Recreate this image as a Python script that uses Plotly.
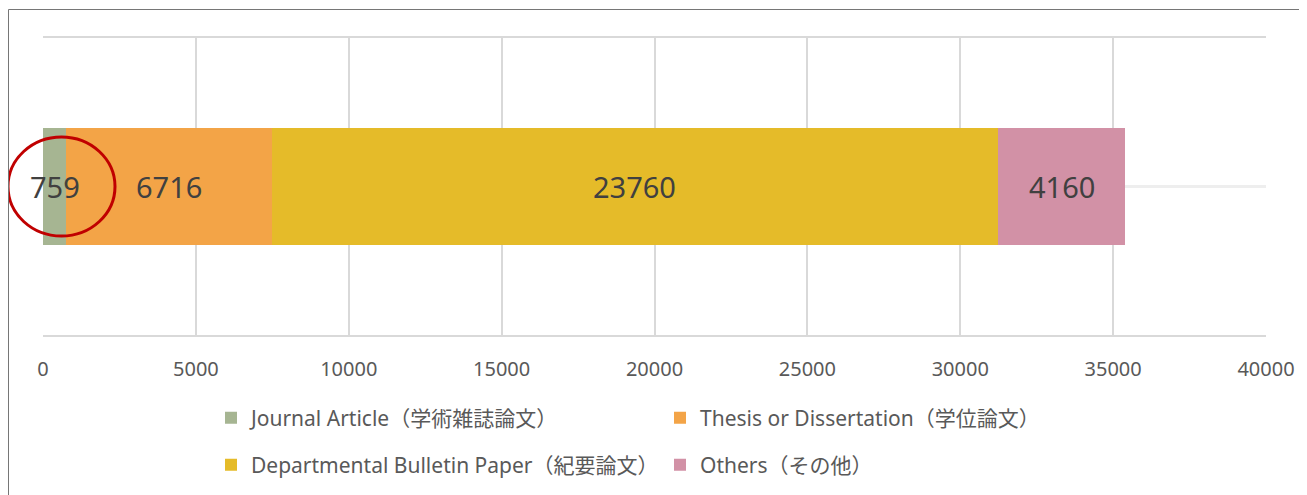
import plotly.graph_objects as go

categories = ["Journal Article（学術雑誌論文）", "Thesis or Dissertation（学位論文）",
              "Departmental Bulletin Paper（紀要論文）", "Others（その他）"]
values = [759, 6716, 23760, 4160]
colors = ["#a6b592", "#f3a447", "#e5bb29", "#d291a6"]
legend_rows = ["legend", "legend", "legend2", "legend2"]
x_ticks = [0, 5000, 10000, 15000, 20000, 25000, 30000, 35000, 40000]

FONT = "Noto Sans, Noto Sans CJK JP, sans-serif"

fig = go.Figure()
for name, v, c, lg in zip(categories, values, colors, legend_rows):
    fig.add_trace(go.Bar(
        x=[v], y=[0], orientation="h", name=name,
        marker=dict(color=c, line=dict(width=0)),
        width=0.397, legend=lg, textposition="none", hoverinfo="x+name",
    ))

# data labels centered on each segment
start = 0
for v in values:
    fig.add_annotation(x=start + v / 2, y=0, xref="x", yref="y", text=str(v),
                       showarrow=False, font=dict(size=29, color="#404040", family=FONT))
    start += v

OFF = 8  # page body margin
W, H = 1307 - OFF, 495 - OFF
L, R, T, B = 35, 41, 30, 160
pw, ph = W - L - R, H - T - B

def px(x):  # page x -> paper
    return (x - OFF - L) / pw

def py(y):  # page y -> paper
    return (H - B - (y - OFF)) / ph

# red highlight ellipse
fig.add_shape(type="circle", xref="paper", yref="paper",
              x0=px(8), x1=px(115), y0=py(236), y1=py(137),
              line=dict(color="#c00000", width=3), fillcolor="rgba(0,0,0,0)")
# outer chart border (left and top)
fig.add_shape(type="line", xref="paper", yref="paper", x0=px(8.5), x1=px(1320), y0=py(9.5), y1=py(9.5),
              line=dict(color="#767676", width=1))
fig.add_shape(type="line", xref="paper", yref="paper", x0=px(8.5), x1=px(8.5), y0=py(9.5), y1=py(510),
              line=dict(color="#767676", width=1))

legend_common = dict(orientation="h", xanchor="left", yanchor="middle", traceorder="normal",
                     font=dict(size=21, color="#595959", family=FONT),
                     entrywidth=404, entrywidthmode="pixels", bgcolor="rgba(0,0,0,0)",
                     itemclick=False, itemdoubleclick=False)

fig.update_layout(
    width=W, height=H,
    margin=dict(l=L, r=R, t=T, b=B, autoexpand=False),
    paper_bgcolor="white", plot_bgcolor="white",
    barmode="stack", bargap=0,
    showlegend=True,
    font=dict(family=FONT, color="#595959"),
    xaxis=dict(range=[0, 40000], tickvals=x_ticks, ticktext=[str(t) for t in x_ticks],
               showgrid=True, gridcolor="#d9d9d9", gridwidth=2,
               showline=True, mirror=True, linecolor="#d9d9d9", linewidth=2,
               zeroline=False, ticks="", ticklabelstandoff=15,
               tickfont=dict(size=20, color="#595959", family=FONT),
               fixedrange=True),
    yaxis=dict(range=[-0.5, 0.5], tickvals=[0], showticklabels=False,
               showgrid=True, gridcolor="#eeeeee", gridwidth=3, zeroline=False,
               showline=False, ticks="", fixedrange=True),
    legend=dict(x=px(211), y=py(418), **legend_common),
    legend2=dict(x=px(211), y=py(465), **legend_common),
)

fig.write_html("out.html")
